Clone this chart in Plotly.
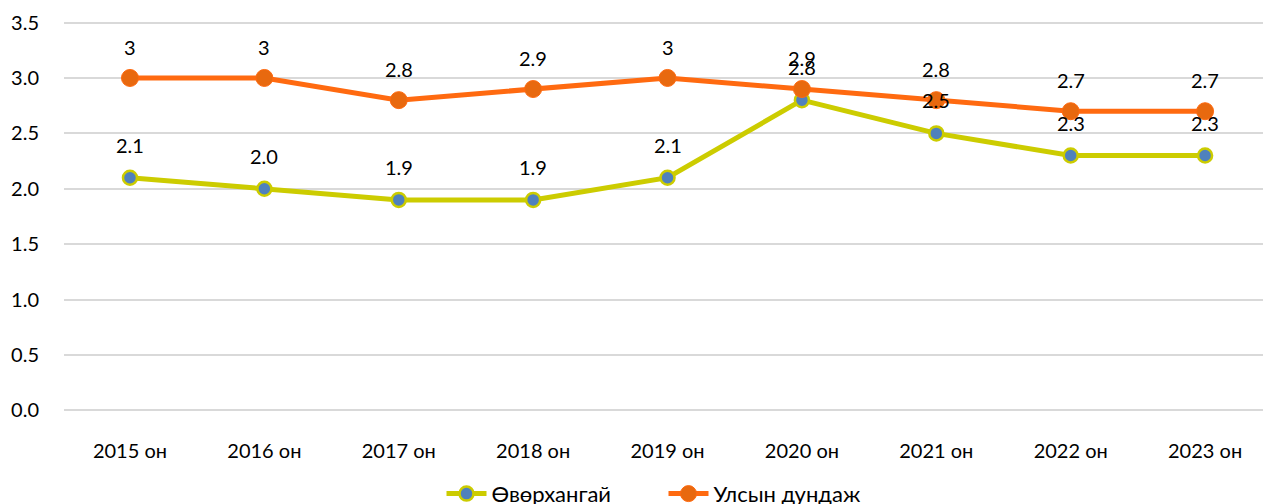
import plotly.graph_objects as go

categories = ["2015 он", "2016 он", "2017 он", "2018 он", "2019 он", "2020 он", "2021 он", "2022 он", "2023 он"]
uvurkhangai = [2.1, 2.0, 1.9, 1.9, 2.1, 2.8, 2.5, 2.3, 2.3]
national_avg = [3.0, 3.0, 2.8, 2.9, 3.0, 2.9, 2.8, 2.7, 2.7]
uvur_labels = ["2.1", "2.0", "1.9", "1.9", "2.1", "2.8", "2.5", "2.3", "2.3"]
national_labels = ["3", "3", "2.8", "2.9", "3", "2.9", "2.8", "2.7", "2.7"]
y_ticks = [0.0, 0.5, 1.0, 1.5, 2.0, 2.5, 3.0, 3.5]

FONT = "Lato"
FS = 20

fig = go.Figure()
fig.add_trace(go.Scatter(
    x=categories, y=uvurkhangai, name="Өвөрхангай", mode="lines+markers",
    line=dict(color="#CCCC00", width=5),
    marker=dict(size=14, color="#4F81BD", line=dict(color="#CCCC00", width=2.5)),
))
fig.add_trace(go.Scatter(
    x=categories, y=national_avg, name="Улсын дундаж", mode="lines+markers",
    line=dict(color="#FF6A10", width=5),
    marker=dict(size=17, color="#E8690F", line=dict(color="#FF6A10", width=1)),
))

annotations = []
for c, v, t in zip(categories, uvurkhangai, uvur_labels):
    annotations.append(dict(x=c, y=v, text=t, showarrow=False, yshift=33,
                            font=dict(family=FONT, size=FS, color="#000000")))
for c, v, t in zip(categories, national_avg, national_labels):
    annotations.append(dict(x=c, y=v, text=t, showarrow=False, yshift=31,
                            font=dict(family=FONT, size=FS, color="#000000")))

fig.update_layout(
    width=1263, height=504,
    margin=dict(l=64, r=0, t=17.47, b=88.47, autoexpand=False),
    paper_bgcolor="white", plot_bgcolor="white",
    font=dict(family=FONT, size=FS, color="#000000"),
    annotations=annotations,
    showlegend=True,
    legend=dict(orientation="h", x=0.5, xanchor="center", y=-0.195, yanchor="middle",
                font=dict(family=FONT, size=22, color="#000000"), itemwidth=40,
                entrywidth=167, traceorder="normal"),
    xaxis=dict(range=[-0.491, 8.431], showgrid=False, zeroline=False, showline=False,
               ticks="", tickfont=dict(size=FS), automargin=False, ticklabelstandoff=21),
    yaxis=dict(range=[-0.05, 3.55], tickvals=y_ticks, ticktext=[f"{v:.1f}" for v in y_ticks],
               showgrid=True, gridcolor="#D9D9D9", gridwidth=2, zeroline=False,
               showline=False, ticks="", ticklabelstandoff=24, tickfont=dict(size=FS),
               automargin=False),
)

fig.write_html("out.html", post_script="document.body.style.margin='0';",
               config={"displayModeBar": False})
